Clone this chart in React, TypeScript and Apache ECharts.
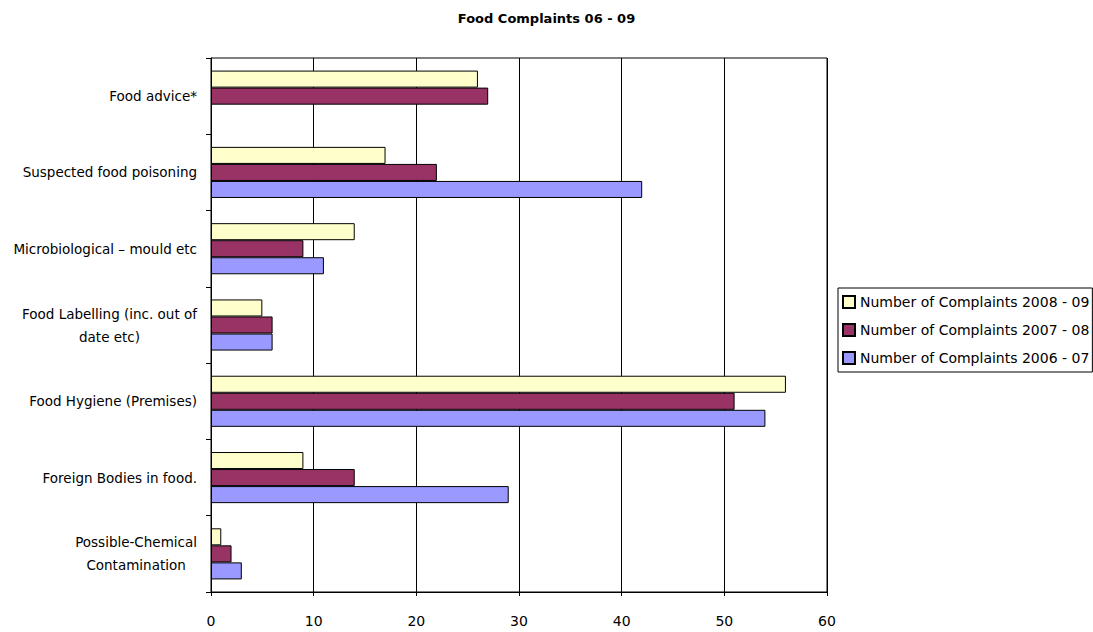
import React, { useEffect, useRef } from "react";
import * as echarts from "echarts";

const categories = [
  "Possible-Chemical\nContamination",
  "Foreign Bodies in food.",
  "Food Hygiene (Premises)",
  "Food Labelling (inc. out of\ndate etc)",
  "Microbiological – mould etc",
  "Suspected food poisoning",
  "Food advice*",
];
const seriesNames = [
  "Number of Complaints 2008 - 09",
  "Number of Complaints 2007 - 08",
  "Number of Complaints 2006 - 07",
];
const values0809 = [1, 9, 56, 5, 14, 17, 26];
const values0708 = [2, 14, 51, 6, 9, 22, 27];
const values0607: (number | null)[] = [3, 29, 54, 6, 11, 42, null];
const xTicks = { min: 0, max: 60, interval: 10 };
const colors = ["#FFFFCC", "#993366", "#9999FF"];

const FONT = "DejaVu Sans";

export default function App() {
  const ref = useRef<HTMLDivElement>(null);
  useEffect(() => {
    if (!ref.current) return;
    const chart = echarts.init(ref.current, undefined, { renderer: "svg" });
    const data = [values0809, values0708, values0607];
    chart.setOption({
      animation: false,
      backgroundColor: "#ffffff",
      textStyle: { fontFamily: FONT },
      title: {
        text: "Food Complaints 06 - 09",
        left: "center",
        top: 7,
        textStyle: { fontFamily: FONT, fontSize: 13, fontWeight: "bold", color: "#000" },
      },
      legend: {
        orient: "vertical",
        left: 838,
        top: 288,
        itemWidth: 12,
        itemHeight: 12,
        itemGap: 12,
        padding: [6, 3, 6, 4],
        borderColor: "#000",
        borderWidth: 1,
        icon: "rect",
        data: seriesNames,
        textStyle: { fontFamily: FONT, fontSize: 14, color: "#000", lineHeight: 16 },
      },
      grid: {
        left: 211,
        top: 58,
        right: 266,
        bottom: 40,
        show: true,
        borderColor: "#000",
        borderWidth: 1,
      },
      xAxis: {
        type: "value",
        min: xTicks.min,
        max: xTicks.max,
        interval: xTicks.interval,
        axisLine: { show: true, lineStyle: { color: "#000" } },
        axisTick: { show: true, length: 4, lineStyle: { color: "#000" } },
        splitLine: { show: true, lineStyle: { color: "#000", width: 1 } },
        axisLabel: { color: "#000", fontSize: 14, fontFamily: FONT, margin: 22 },
      },
      yAxis: {
        type: "category",
        data: categories,
        axisLine: { show: true, lineStyle: { color: "#000" } },
        axisTick: { show: true, length: 5, lineStyle: { color: "#000" } },
        axisLabel: {
          color: "#000",
          fontSize: 13.5,
          fontFamily: FONT,
          margin: 14,
          lineHeight: 23,
          formatter: (v: string) => v.split("\n").map((l) => `{c|${l}}`).join("\n"),
          rich: { c: { align: "center", fontSize: 13.5, fontFamily: FONT, color: "#000", lineHeight: 23 } },
        },
      },
      series: seriesNames.map((name, i) => ({
        name,
        type: "bar",
        data: data[i],
        barGap: "0%",
        barCategoryGap: "33%",
        itemStyle: { color: colors[i], borderColor: "#000", borderWidth: 1 },
      })),
    });
    return () => chart.dispose();
  }, []);
  return (
    <div
      ref={ref}
      style={{ position: "fixed", left: 0, top: 0, width: 1093, height: 632 }}
    />
  );
}
